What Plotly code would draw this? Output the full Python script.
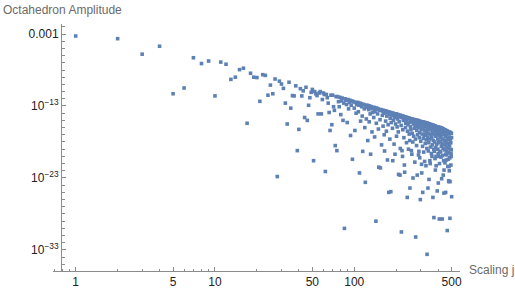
import plotly.graph_objects as go

# Scaling j (integer spins 1..500)
scaling_j = list(range(1, 501))

# log10 of the octahedron amplitude
log_amp_j1_75 = [
    -3.28, -3.65, -5.8, -4.7, -11.3, -10.5, -6.3, -7.1, -6.75, -11.6,
    -6.9, -7.2, -9.3, -9.0, -7.95, -7.75, -15.4, -8.45, -9.0, -9.05,
    -12.35, -8.65, -8.75, -11.5, -10.1, -11.3, -9.25, -22.8, -9.55, -9.95,
    -10.55, -12.6, -15.5, -9.7, -13.3, -11.55, -11.6, -10.2, -19.2, -16.25,
    -10.6, -11.6, -10.9, -14.6, -10.4, -15.0, -12.9, -11.85, -11.1, -10.7,
    -20.6, -11.0, -11.3, -11.55, -14.1, -11.2, -11.0, -14.1, -12.1, -11.2,
    -11.4, -22.1, -11.4, -11.85, -12.6, -13.9, -16.4, -11.5, -15.6, -11.5,
    -13.1, -13.6, -18.5, -11.7, -19.2,
]
log_amp_j76_195 = [
    -11.7, -12.4, -13.1, -11.8, -14.2, -12.3, -11.9, -15.0, -12.6, -30.0,
    -12.0, -12.2, -12.8, -15.3, -12.1, -13.4, -12.5, -12.2, -17.1, -12.9,
    -12.3, -20.4, -12.4, -12.4, -13.3, -16.4, -12.5, -14.0, -12.8, -12.6,
    -12.5, -13.8, -12.9, -22.3, -12.6, -15.1, -12.7, -13.1, -14.4, -19.3,
    -12.8, -12.8, -13.4, -16.0, -23.6, -12.9, -14.8, -13.2, -12.9, -17.8,
    -13.0, -13.5, -15.2, -13.0, -14.1, -19.7, -13.1, -13.3, -16.6, -13.9,
    -13.2, -13.4, -14.6, -13.2, -17.3, -13.8, -13.3, -29.0, -15.4, -13.3,
    -13.4, -14.1, -13.4, -16.2, -21.5, -13.6, -13.5, -14.9, -21.6, -13.5,
    -13.6, -18.4, -13.6, -14.3, -13.7, -15.8, -13.6, -14.0, -17.0, -19.25,
    -13.7, -13.9, -15.1, -13.7, -16.5, -14.4, -13.8, -20.5, -13.8, -15.6,
    -13.8, -25.0, -14.2, -13.9, -17.6, -14.7, -13.9, -24.9, -15.3, -14.0,
    -14.0, -14.3, -16.1, -20.6, -14.0, -15.0, -14.1, -18.3, -14.6, -14.1,
]
log_amp_j196_345 = [
    -19.7, -14.1, -15.5, -14.4, -14.1, -17.2, -14.2, -15.9, -14.2, -14.8,
    -14.2, -16.6, -22.5, -14.3, -15.2, -14.5, -14.3, -22.6, -18.9, -14.3,
    -14.4, -15.7, -30.5, -14.6, -19.2, -14.4, -20.0, -16.3, -14.4, -15.0,
    -14.5, -17.4, -14.5, -21.2, -22.2, -14.9, -14.5, -16.0, -15.4, -14.6,
    -14.6, -18.1, -15.1, -14.6, -25.7, -16.5, -14.7, -15.6, -14.7, -19.0,
    -14.7, -15.3, -16.9, -14.7, -17.8, -24.4, -14.8, -15.9, -14.8, -16.3,
    -14.8, -19.2, -15.2, -19.7, -14.8, -16.8, -14.9, -18.0, -23.0, -15.5,
    -14.9, -17.2, -14.9, -15.4, -16.1, -14.9, -20.8, -15.0, -15.8, -17.6,
    -31.2, -15.0, -15.7, -15.0, -18.5, -16.4, -15.0, -22.6, -15.3, -17.0,
    -15.0, -16.0, -15.1, -19.8, -15.6, -19.3, -15.1, -17.4, -16.7, -20.2,
    -15.1, -15.8, -26.0, -15.2, -17.9, -15.4, -16.3, -15.2, -21.1, -22.3,
    -15.2, -16.9, -15.5, -18.6, -25.0, -15.2, -16.0, -17.5, -15.3, -19.4,
    -15.3, -15.9, -17.1, -15.3, -20.7, -16.4, -15.3, -18.2, -15.6, -16.9,
    -15.4, -21.3, -15.8, -17.7, -15.4, -16.6, -18.9, -33.6, -15.4, -16.2,
    -15.4, -17.3, -24.4, -15.7, -19.25, -15.5, -16.8, -18.1, -23.2, -15.5,
]
log_amp_j346_500 = [
    -15.9, -15.5, -17.6, -20.6, -16.3, -21.0, -15.6, -18.7, -15.6, -17.0,
    -15.6, -16.1, -19.6, -15.6, -17.4, -20.0, -15.7, -16.6, -18.4, -15.7,
    -16.0, -25.7, -15.7, -17.8, -15.7, -16.9, -19.0, -28.5, -15.8, -19.3,
    -15.8, -16.4, -18.0, -15.8, -20.3, -16.2, -21.9, -15.8, -17.2, -18.8,
    -20.0, -21.3, -15.9, -16.7, -15.9, -18.3, -17.0, -15.9, -24.8, -16.3,
    -15.9, -17.6, -19.0, -15.9, -19.6, -23.7, -16.0, -16.8, -18.1, -20.0,
    -16.0, -17.1, -28.7, -21.0, -16.0, -16.5, -19.3, -16.0, -17.9, -16.3,
    -16.1, -19.4, -17.4, -20.1, -16.1, -16.7, -18.6, -16.1, -23.1, -17.0,
    -16.1, -18.2, -28.7, -16.2, -16.6, -19.9, -16.2, -17.6, -18.9, -22.6,
    -16.2, -16.9, -20.6, -16.3, -25.1, -21.9, -16.3, -17.8, -16.7, -19.1,
    -16.3, -18.4, -20.9, -16.4, -17.2, -16.4, -19.7, -25.0, -16.4, -18.0,
    -16.5, -17.0, -20.5, -16.5, -18.7, -19.25, -19.8, -16.5, -17.5, -30.3,
    -16.5, -18.2, -16.8, -21.4, -16.6, -17.7, -19.5, -20.4, -16.6, -18.9,
    -23.4, -23.5, -16.6, -21.4, -17.3, -22.0, -16.7, -18.5, -16.7, -20.2,
    -28.6, -23.5, -16.7, -17.6, -16.7, -19.0, -16.8, -18.1, -21.2, -19.6,
    -20.0, -19.1, -16.8, -17.4, -25.6,
]
log_amp = log_amp_j1_75 + log_amp_j76_195 + log_amp_j196_345 + log_amp_j346_500
amplitude = [10 ** v for v in log_amp]

x_tick_vals = [1, 5, 10, 50, 100, 500]
x_tick_text = ["1", "5", "10", "50", "100", "500"]
x_minor_vals = [0.7, 0.8, 0.9, 2, 3, 4, 6, 7, 8, 9, 20, 30, 40, 60, 70, 80, 90, 200, 300, 400]
y_tick_vals = [1e-3, 1e-13, 1e-23, 1e-33]
y_tick_text = ["0.001", "10<sup>\u221213</sup>", "10<sup>\u221223</sup>", "10<sup>\u221233</sup>"]
y_minor_vals = [10.0 ** (-k) for k in range(2, 36) if k not in (3, 13, 23, 33)]

AXIS = "#8c8c8c"
FONT = "Liberation Sans, Arial, sans-serif"

fig = go.Figure(
    go.Scatter(
        x=scaling_j, y=amplitude, mode="markers",
        marker=dict(symbol="square", size=3.6, color="#5E81B5", line=dict(width=0)),
        hoverinfo="skip",
    )
)

fig.update_layout(
    template="none",
    width=515, height=291,
    margin=dict(l=53, r=55, t=24, b=20, pad=0, autoexpand=False),
    plot_bgcolor="white", paper_bgcolor="white",
    showlegend=False,
    hovermode=False,
    font=dict(family=FONT, size=12, color="#222222"),
    xaxis=dict(
        type="log", range=[-0.163, 2.759], automargin=False,
        showgrid=False, zeroline=False,
        showline=True, linecolor=AXIS, linewidth=1,
        ticks="inside", ticklen=4, tickcolor=AXIS, tickwidth=1,
        tickmode="array", tickvals=x_tick_vals, ticktext=x_tick_text,
        tickfont=dict(family=FONT, size=12, color="#222222"),
        minor=dict(tickmode="array", tickvals=x_minor_vals, ticks="inside",
                   ticklen=2.5, tickcolor=AXIS, tickwidth=1, showgrid=False),
    ),
    yaxis=dict(
        type="log", range=[-35.92, -1.611], automargin=False,
        anchor="free", position=0.0197,
        showgrid=False, zeroline=False,
        showline=True, linecolor=AXIS, linewidth=1,
        ticks="inside", ticklen=4, tickcolor=AXIS, tickwidth=1,
        tickmode="array", tickvals=y_tick_vals, ticktext=y_tick_text,
        tickfont=dict(family=FONT, size=12, color="#222222"),
        minor=dict(tickmode="array", tickvals=y_minor_vals, ticks="inside",
                   ticklen=2.5, tickcolor=AXIS, tickwidth=1, showgrid=False),
    ),
    annotations=[
        dict(text="Octahedron Amplitude", xref="paper", yref="paper",
             x=(1 - 53) / 407, y=(271 - 10) / 247, xanchor="left", yanchor="middle",
             showarrow=False, font=dict(family=FONT, size=12, color="#6b6b6b")),
        dict(text="Scaling j", xref="paper", yref="paper",
             x=(467 - 53) / 407, y=(271 - 270) / 247, xanchor="left", yanchor="middle",
             showarrow=False, font=dict(family=FONT, size=12, color="#6b6b6b")),
    ],
)

fig.write_html("out.html", config={"displayModeBar": False},
               post_script="document.body.style.margin='0px';")
